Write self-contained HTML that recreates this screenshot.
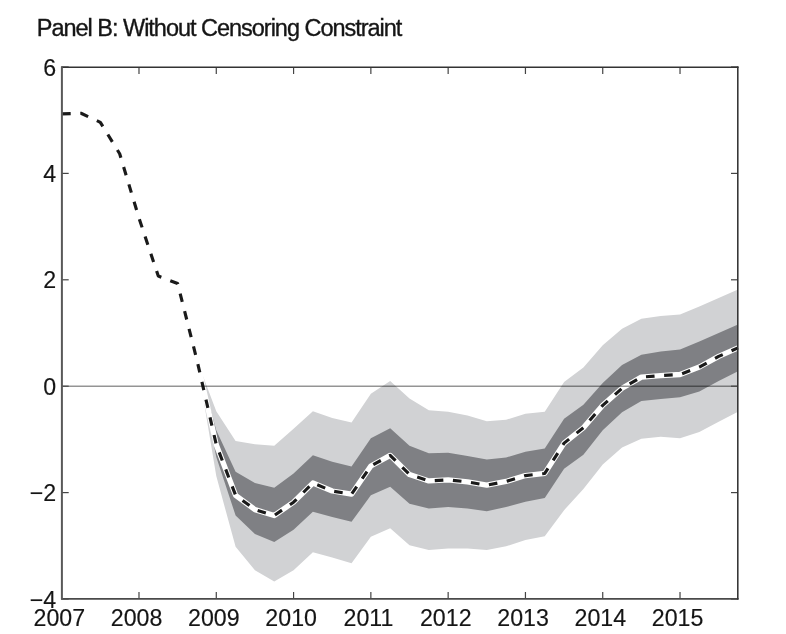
<!DOCTYPE html>
<html><head><meta charset="utf-8"><style>
html,body{margin:0;padding:0;background:#fff;}
svg{display:block;}
text{font-family:"Liberation Sans",Arial,sans-serif;fill:#151515;will-change:transform;}
</style></head><body>
<svg width="786" height="634" viewBox="0 0 786 634">
<rect width="786" height="634" fill="#fff"/>
<text x="36.8" y="35.9" font-size="23.5" letter-spacing="-1.02" stroke="#151515" stroke-width="0.35">Panel B: Without Censoring Constraint</text>
<polygon points="196.96,360.13 216.28,411.20 235.60,441.00 254.93,444.19 274.25,445.78 293.57,428.76 312.89,411.20 332.22,418.12 351.54,422.38 370.86,393.65 390.18,380.88 409.50,398.44 428.83,410.14 448.15,411.74 467.47,415.46 486.80,421.31 506.12,419.72 525.44,413.86 544.76,411.74 564.09,381.94 583.41,367.58 602.73,345.24 622.05,328.74 641.38,318.64 660.70,315.98 680.02,314.38 699.34,306.40 718.67,297.89 737.99,289.38 737.99,411.74 718.67,421.84 699.34,431.95 680.02,438.34 660.70,436.74 641.38,438.87 622.05,447.38 602.73,464.40 583.41,488.88 564.09,510.16 544.76,536.22 525.44,539.95 506.12,546.33 486.80,550.06 467.47,548.46 448.15,548.46 428.83,550.06 409.50,545.27 390.18,528.24 370.86,536.76 351.54,563.36 332.22,557.50 312.89,552.18 293.57,570.27 274.25,581.44 254.93,570.27 235.60,546.86 216.28,476.11 196.96,360.13" fill="#d1d2d4"/>
<polygon points="196.96,360.13 216.28,430.36 235.60,471.85 254.93,483.02 274.25,487.81 293.57,473.45 312.89,455.36 332.22,461.74 351.54,466.53 370.86,438.34 390.18,428.23 409.50,445.78 428.83,453.23 448.15,452.70 467.47,455.89 486.80,459.62 506.12,457.49 525.44,451.64 544.76,448.44 564.09,418.65 583.41,404.82 602.73,383.01 622.05,364.92 641.38,354.81 660.70,351.62 680.02,349.49 699.34,341.51 718.67,333.00 737.99,324.49 737.99,371.30 718.67,380.88 699.34,391.52 680.02,397.37 660.70,398.97 641.38,401.10 622.05,412.27 602.73,430.36 583.41,454.83 564.09,468.66 544.76,497.92 525.44,501.64 506.12,506.96 486.80,511.22 467.47,508.56 448.15,506.96 428.83,508.56 409.50,503.77 390.18,486.75 370.86,495.26 351.54,521.86 332.22,517.07 312.89,511.75 293.57,529.84 274.25,542.08 254.93,534.10 235.60,515.48 216.28,456.96 196.96,360.13" fill="#7f8084"/>
<polyline points="61.70,113.82 81.02,113.28 100.34,122.33 119.67,153.72 138.99,218.09 158.31,276.08 177.63,283.52 196.96,360.13 216.28,444.72 235.60,495.26 254.93,509.62 274.25,515.48 293.57,502.18 312.89,483.02 332.22,491.00 351.54,494.20 370.86,466.00 390.18,455.36 409.50,474.51 428.83,480.90 448.15,479.83 467.47,481.96 486.80,485.15 506.12,481.43 525.44,475.58 544.76,473.45 564.09,443.12 583.41,427.70 602.73,405.35 622.05,388.33 641.38,377.16 660.70,375.56 680.02,374.50 699.34,367.05 718.67,356.41 737.99,347.90" fill="none" stroke="#fff" stroke-width="5.3" stroke-linejoin="round"/>
<polyline points="61.70,113.82 81.02,113.28 100.34,122.33 119.67,153.72 138.99,218.09 158.31,276.08 177.63,283.52 196.96,360.13 216.28,444.72 235.60,495.26 254.93,509.62 274.25,515.48 293.57,502.18 312.89,483.02 332.22,491.00 351.54,494.20 370.86,466.00 390.18,455.36 409.50,474.51 428.83,480.90 448.15,479.83 467.47,481.96 486.80,485.15 506.12,481.43 525.44,475.58 544.76,473.45 564.09,443.12 583.41,427.70 602.73,405.35 622.05,388.33 641.38,377.16 660.70,375.56 680.02,374.50 699.34,367.05 718.67,356.41 737.99,347.90" fill="none" stroke="#1a1a1a" stroke-width="3.15" stroke-dasharray="8.6 9.59" stroke-dashoffset="-0.4" stroke-linejoin="round"/>
<line x1="61.70" y1="386.20" x2="737.99" y2="386.20" stroke="#000" stroke-opacity="0.42" stroke-width="1.6"/>
<g stroke="#444" stroke-width="1.2">
<line x1="138.99" y1="599.00" x2="138.99" y2="592.00"/><line x1="138.99" y1="67.00" x2="138.99" y2="74.00"/><line x1="216.28" y1="599.00" x2="216.28" y2="592.00"/><line x1="216.28" y1="67.00" x2="216.28" y2="74.00"/><line x1="293.57" y1="599.00" x2="293.57" y2="592.00"/><line x1="293.57" y1="67.00" x2="293.57" y2="74.00"/><line x1="370.86" y1="599.00" x2="370.86" y2="592.00"/><line x1="370.86" y1="67.00" x2="370.86" y2="74.00"/><line x1="448.15" y1="599.00" x2="448.15" y2="592.00"/><line x1="448.15" y1="67.00" x2="448.15" y2="74.00"/><line x1="525.44" y1="599.00" x2="525.44" y2="592.00"/><line x1="525.44" y1="67.00" x2="525.44" y2="74.00"/><line x1="602.73" y1="599.00" x2="602.73" y2="592.00"/><line x1="602.73" y1="67.00" x2="602.73" y2="74.00"/><line x1="680.02" y1="599.00" x2="680.02" y2="592.00"/><line x1="680.02" y1="67.00" x2="680.02" y2="74.00"/><line x1="61.70" y1="67.00" x2="68.70" y2="67.00"/><line x1="737.99" y1="67.00" x2="730.99" y2="67.00"/><line x1="61.70" y1="173.40" x2="68.70" y2="173.40"/><line x1="737.99" y1="173.40" x2="730.99" y2="173.40"/><line x1="61.70" y1="279.80" x2="68.70" y2="279.80"/><line x1="737.99" y1="279.80" x2="730.99" y2="279.80"/><line x1="61.70" y1="386.20" x2="68.70" y2="386.20"/><line x1="737.99" y1="386.20" x2="730.99" y2="386.20"/><line x1="61.70" y1="492.60" x2="68.70" y2="492.60"/><line x1="737.99" y1="492.60" x2="730.99" y2="492.60"/><line x1="61.70" y1="599.00" x2="68.70" y2="599.00"/><line x1="737.99" y1="599.00" x2="730.99" y2="599.00"/>
</g>
<line x1="61" y1="67.3" x2="738.6" y2="67.3" stroke="#333" stroke-width="1.6"/>
<line x1="61" y1="598.8" x2="738.6" y2="598.8" stroke="#4a4a4a" stroke-width="1.7"/>
<line x1="61.9" y1="66.5" x2="61.9" y2="599.6" stroke="#595959" stroke-width="2"/>
<line x1="737.8" y1="66.5" x2="737.8" y2="599.6" stroke="#333" stroke-width="1.55"/>
<g font-size="23.2" stroke="#151515" stroke-width="0.15">
<text x="56.2" y="75.60" text-anchor="end">6</text><text x="56.2" y="182.00" text-anchor="end">4</text><text x="56.2" y="288.40" text-anchor="end">2</text><text x="56.2" y="394.80" text-anchor="end">0</text><text x="56.2" y="501.20" text-anchor="end">−2</text><text x="56.2" y="607.60" text-anchor="end">−4</text>
<text x="59.30" y="625.9" text-anchor="middle">2007</text><text x="136.59" y="625.9" text-anchor="middle">2008</text><text x="213.88" y="625.9" text-anchor="middle">2009</text><text x="291.17" y="625.9" text-anchor="middle">2010</text><text x="368.46" y="625.9" text-anchor="middle">2011</text><text x="445.75" y="625.9" text-anchor="middle">2012</text><text x="523.04" y="625.9" text-anchor="middle">2013</text><text x="600.33" y="625.9" text-anchor="middle">2014</text><text x="677.62" y="625.9" text-anchor="middle">2015</text>
</g>
</svg>
</body></html>
